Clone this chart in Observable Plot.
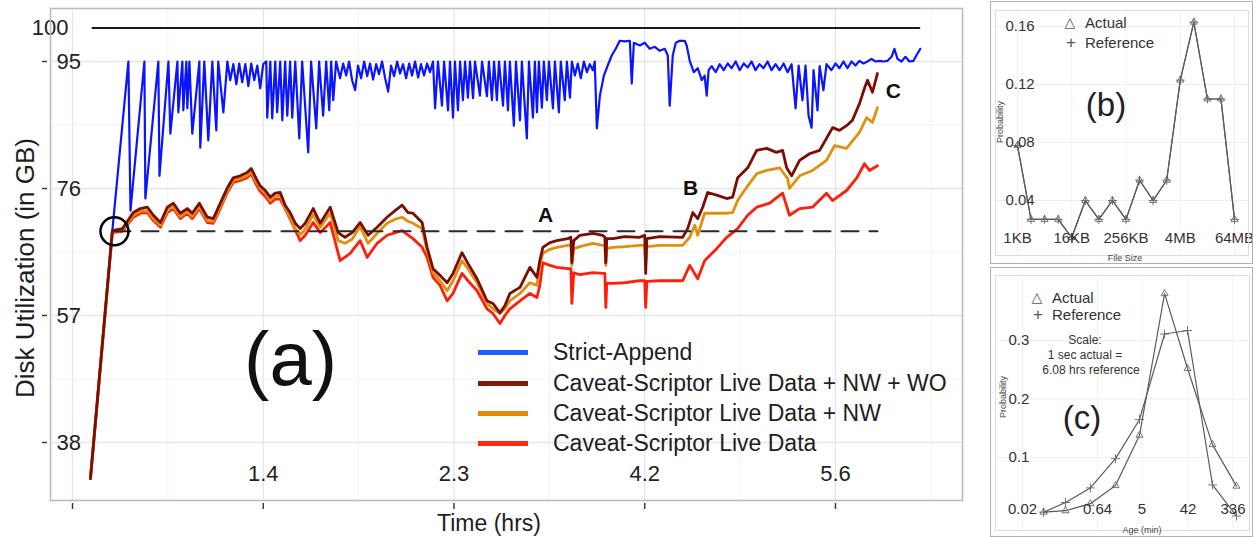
<!DOCTYPE html>
<html><head><meta charset="utf-8">
<script src="https://cdn.jsdelivr.net/npm/d3@7"></script>
<script src="https://cdn.jsdelivr.net/npm/@observablehq/plot@0.6"></script>
<style>
body{margin:0;background:#fff;font-family:"Liberation Sans",Arial,Helvetica,sans-serif;}
#root{position:relative;width:1253px;height:537px;overflow:hidden;background:#fff;}
.abs{position:absolute;white-space:nowrap;line-height:1;color:#1e1e1e;}
.c{transform:translate(-50%,-50%);}
.lm{transform:translate(0,-50%);}
.rot{transform:translate(-50%,-50%) rotate(-90deg);}
.box{position:absolute;border:1px solid #b0b0b0;box-sizing:border-box;}
</style></head><body><div id="root"></div>
<script>
// ---------------- Panel (a) data ----------------
// time position (1 tick interval = 100 units), disk utilization in GB
const xTicks = [0, 100, 200, 300, 400];
const xTickLabels = ["", "1.4", "2.3", "4.2", "5.6"];
const xMinor = [50, 150, 250, 350, 450];
const yTicks = [38, 57, 76, 95];
const yMinor = [47.5, 66.5, 85.5];
const capacityGB = 100;
const capacitySpan = [10.5, 444.0];
const thresholdGB = 69.6;
const thresholdSpan = [21.5, 422.0];

const blueT = [9.4,20.9,29.3,30.4,37.7,38.2,45.0,45.6,50.3,51.3,55.0,55.5,57.6,58.1,59.7,60.2,61.3,62.8,66.5,67.0,69.1,71.2,73.3,75.4,76.4,79.1,81.2,
82.7,84.3,85.9,87.4,89.0,90.6,92.2,93.7,95.3,96.9,98.4,100.0,
101.6,102.1,103.7,104.7,106.3,107.3,108.9,110.0,111.5,112.6,114.1,115.2,116.8,118.9,120.4,123.6,125.1,127.8,129.3,131.4,133.0,134.6,135.6,136.7,138.2,
140.3,141.9,143.5,145.0,146.6,148.2,149.7,151.3,152.9,154.5,156.0,157.6,159.2,160.7,162.3,163.9,165.5,167.0,168.6,170.2,171.7,173.3,174.9,176.5,178.0,179.6,181.2,182.7,184.3,185.9,187.4,
189.0,190.1,191.6,193.7,194.8,196.9,197.9,199.5,200.5,202.1,203.2,204.7,205.8,207.3,208.4,210.0,211.0,213.6,214.7,217.3,218.3,219.9,221.0,222.5,223.6,225.7,226.7,228.3,229.3,231.4,232.5,234.6,235.6,238.2,239.3,241.4,242.4,243.5,244.5,246.1,247.1,248.7,249.8,251.9,252.9,255.0,256.0,258.1,259.2,260.8,261.8,
263.4,264.9,266.5,268.1,269.7,271.2,272.8,273.8,
274.9,276.5,278.6,280.6,282.7,284.8,286.9,289.5,292.2,293.2,294.3,297.4,300.0,302.6,305.3,307.9,310.5,312.1,313.1,314.7,316.3,318.3,321.0,322.0,323.6,325.7,327.8,329.9,331.4,332.5,333.5,335.1,337.2,339.3,341.4,343.5,345.6,347.7,349.8,351.9,354.0,356.0,358.1,360.2,362.3,364.4,366.5,368.6,370.7,372.8,374.9,377.0,
379.1,380.7,382.7,384.3,385.9,387.5,388.5,390.6,391.7,393.7,395.3,
397.9,400.0,402.1,404.2,406.3,408.4,410.5,412.6,414.7,416.8,418.9,421.0,423.1,425.2,427.3,429.4,430.9,432.5,434.6,436.7,438.8,440.9,442.4,444.5];
const blueGB = [32.6,69.7,95,72.7,95,74.5,95,77.9,95,84.2,95,87.4,95,87.7,95,88.0,95,84.2,95,82.1,95,83.2,95,84.7,95,87.4,95,
92.2,94.6,91.6,94.7,91.9,94.6,91.3,94.7,92.2,94.4,91.0,94.6,
95,86.6,95,86.5,95,87.4,95,86.2,95,86.9,95,86.6,95,83.5,95,81.4,95,85.0,95,86.9,95,87.7,95,89.2,95,
92.5,94.7,92.9,95,92.2,90.7,94.4,92.5,95,92.8,94.7,92.3,94.6,93.1,95,92.5,90.5,94.4,92.8,95,93.2,94.6,92.5,94.7,92.9,95,92.6,94.6,92.9,94.7,93.4,
95,88.0,95,88.4,95,87.7,95,86.6,95,87.7,95,89.2,95,89.6,95,89.5,95,89.9,95,89.8,95,89.2,95,89.2,95,88.4,95,87.7,95,85.4,95,86.2,95,83.5,95,86.6,95,87.4,95,88.1,95,89.2,95,88.0,95,87.4,95,89.2,95,89.6,95,
92.9,94.7,92.5,95,93.4,94.6,93.7,95,
85.0,89.9,92.9,94.4,95.9,96.9,98.1,98.0,98.1,91.7,97.8,97.4,97.8,96.9,97.2,96.6,96.9,95.9,88.4,95.9,97.8,98.1,98.1,97.4,95.1,93.4,94.0,92.2,92.9,89.9,93.7,94.3,93.4,94.6,93.7,94.7,94.0,95,93.7,94.7,94.1,95,93.7,94.6,94.0,95,93.7,94.6,93.7,94.7,93.4,94.6,
88.0,94.4,89.2,94.4,86.9,85.1,93.7,87.7,94.3,90.7,94.6,
93.7,94.7,94.0,95,94.0,95,94.4,95.1,94.7,95,95.4,95,95.1,95,95.1,95.7,96.9,95.4,95,95.7,95,95.1,95.9,96.9];

const nwwoT = [9.4,20.9,26.2,31.9,35.6,39.3,42.4,46.1,49.7,52.9,56.5,60.2,62.8,66.5,70.7,73.8,77.5,81.2,84.3,88.0,91.6,93.7,96.3,98.4,101.1,103.7,106.3,108.9,111.5,114.1,116.8,119.4,122.0,126.2,129.9,135.1,139.3,142.9,146.6,150.8,155.0,159.7,164.9,169.1,172.8,175.9,178.5,183.3,185.9,189.0,192.7,196.4,199.5,204.2,207.3,212.1,217.3,220.4,224.1,226.7,229.3,234.6,239.8,243.5,245.0,246.6,250.3,253.9,259.7,261.3,261.8,262.8,266.0,272.8,278.0,279.1,279.6,280.1,283.3,289.5,297.4,300.0,300.5,301.1,307.9,319.9,322.5,325.2,327.8,330.4,333.0,337.7,343.0,346.1,348.7,354.0,358.7,363.9,369.1,372.3,374.4,377.0,381.2,386.4,391.7,395.3,398.5,402.1,405.8,408.9,412.6,415.2,416.8,419.4,422.0];
const nwwoGB = [32.6,69.7,70.0,72.4,73.0,73.2,72.0,70.9,73.2,73.8,72.3,73.0,72.3,73.8,71.7,71.5,73.8,76.1,77.6,77.9,78.4,79.0,77.5,76.4,75.7,74.7,75.3,75.4,73.5,72.4,70.8,70.0,70.8,73.0,70.8,73.2,69.4,68.7,69.4,70.9,69.0,70.2,71.7,72.7,73.5,72.4,72.3,70.9,67.2,64.0,63.0,61.9,63.3,66.4,64.8,62.5,59.2,58.8,57.4,58.5,60.3,61.2,64.2,62.7,65.2,67.2,67.9,68.2,68.5,68.7,64.9,68.2,69.0,69.3,69.0,68.7,64.9,68.5,68.5,68.8,68.7,69.0,63.3,68.5,68.8,68.7,70.0,72.4,71.5,73.2,75.4,75.0,74.5,74.7,77.6,79.1,81.7,82.0,81.4,81.7,79.1,77.9,80.2,81.2,81.7,83.5,85.1,84.7,85.4,86.2,88.7,91.0,92.2,90.4,93.2];

const nwT = [9.4,20.9,26.2,31.9,35.6,39.3,42.4,46.1,49.7,52.9,56.5,60.2,62.8,66.5,70.7,73.8,77.5,81.2,84.3,88.0,91.6,93.7,96.3,98.4,101.1,103.7,106.3,108.9,111.5,114.1,116.8,119.4,122.0,126.2,129.9,135.1,139.3,142.9,146.6,150.8,155.0,159.7,164.9,169.1,172.8,175.9,178.5,183.3,185.9,189.0,192.7,196.4,199.5,204.2,207.3,212.1,217.3,220.4,224.1,226.7,229.3,234.6,239.8,243.5,245.0,246.6,250.3,253.9,259.7,261.3,261.8,262.8,266.0,272.8,278.0,279.1,279.6,280.1,283.3,289.5,297.4,300.0,300.5,301.1,307.9,319.9,323.6,326.2,327.8,331.4,335.6,343.0,346.1,348.7,354.0,358.7,363.9,370.7,374.9,375.9,381.2,388.0,395.3,399.5,405.8,412.6,416.3,419.4,422.0];
const nwGB = [32.6,69.6,69.7,72.0,72.6,72.7,71.5,70.5,72.7,73.3,71.8,72.6,71.8,73.3,71.2,71.1,73.3,75.6,77.2,77.5,77.9,78.5,77.0,76.0,75.3,74.2,74.8,75.0,73.0,71.7,70.0,69.1,69.9,72.1,70.2,72.3,68.2,67.8,68.4,70.3,67.8,69.3,70.8,71.4,71.7,71.1,70.8,70.0,66.7,63.4,62.2,60.7,62.2,65.2,64.0,61.9,58.8,58.0,57.3,58.0,59.2,60.3,61.9,61.5,64.5,66.3,66.9,67.2,67.5,67.5,64.5,67.0,67.3,67.8,67.5,67.5,64.5,67.0,67.2,67.3,67.5,67.5,64.5,67.3,67.5,67.5,68.7,70.5,69.0,72.3,72.3,72.3,72.4,74.2,76.4,78.2,78.7,79.1,77.5,76.0,77.9,78.7,80.2,82.4,82.0,84.4,86.6,85.9,88.1];

const liveT = [9.4,20.9,26.2,31.9,35.6,39.3,42.4,46.1,49.7,52.9,56.5,60.2,62.8,66.5,70.7,73.8,77.5,81.2,84.3,88.0,91.6,93.7,96.3,98.4,101.1,103.7,106.3,108.9,112.6,115.7,119.4,122.0,126.2,129.9,135.1,140.3,145.6,150.8,154.5,159.7,164.9,172.8,178.5,183.3,185.9,189.0,192.7,196.4,199.5,204.2,207.3,212.1,217.3,220.4,224.1,226.7,229.3,234.6,239.8,243.5,245.0,246.6,250.3,253.9,259.7,261.3,261.8,262.8,266.0,272.8,278.0,279.1,279.6,280.1,283.3,289.5,297.4,300.0,300.5,301.1,307.9,319.9,323.6,327.8,331.4,337.7,343.0,348.7,354.0,358.7,365.5,372.3,375.9,381.2,388.0,395.3,398.5,405.8,411.0,415.2,417.8,422.0];
const liveGB = [32.6,69.4,69.6,71.7,72.3,72.4,71.2,70.2,72.4,73.0,71.5,72.3,71.5,73.0,70.9,70.8,73.0,75.4,76.9,77.2,77.6,78.2,76.6,75.6,74.8,73.8,74.4,74.4,72.3,70.5,68.2,69.0,70.9,69.4,70.9,65.2,66.3,68.2,65.7,67.8,69.0,69.7,68.5,67.2,65.7,62.7,61.5,59.2,60.3,63.3,62.2,60.7,58.0,57.3,55.8,57.0,58.0,59.2,60.3,59.7,61.5,64.9,64.5,64.2,64.0,64.0,58.8,63.4,63.1,63.4,63.3,63.3,58.2,61.8,61.8,61.9,62.2,62.2,58.2,62.1,62.2,62.2,64.5,62.5,65.2,67.0,68.7,70.0,72.0,73.2,73.8,75.3,72.0,73.0,73.2,75.3,74.2,75.7,77.5,79.7,78.7,79.4];

const seriesNames = ["Strict-Append","Caveat-Scriptor Live Data + NW + WO","Caveat-Scriptor Live Data + NW","Caveat-Scriptor Live Data"];
const lineColors = ["#0a14ff","#7d0c02","#e0900c","#ff1e0a"];
const legendColors = ["#1f5cff","#861a08","#e0890b","#ff2c0c"];
const annotationLabels = ["A","B","C"];
const annotationT = [248.0, 324.0, 430.4];
const annotationGB = [72.0, 76.1, 90.5];
const panelTag = {t: 114.3, gb: 50.3, label: "(a)"};
const circleMark = {t: 22.0, gb: 69.6};

// ---------------- Panel (b) data ----------------
const fileSizes = ["1KB","2KB","4KB","8KB","16KB","32KB","64KB","128KB","256KB","512KB","1MB","2MB","4MB","8MB","16MB","32MB","64MB"];
const fileSizeTicks = ["1KB","16KB","256KB","4MB","64MB"];
const sizeActual    = [0.078,0.027,0.027,0.027,0.0145,0.040,0.027,0.040,0.027,0.054,0.040,0.054,0.123,0.163,0.110,0.110,0.027];
const sizeReference = [0.078,0.027,0.027,0.027,0.0145,0.040,0.027,0.040,0.027,0.054,0.040,0.054,0.123,0.163,0.110,0.110,0.027];
const probTicksB = [0.04,0.08,0.12,0.16];

// ---------------- Panel (c) data ----------------
const ageBins = [0.053,0.146,0.46,1.47,4.46,14.2,41,130,394];
const ageActual    = [0.0065,0.009,0.021,0.052,0.138,0.38,0.252,0.122,0.051];
const ageReference = [0.0065,0.023,0.048,0.098,0.165,0.311,0.317,0.053,0.0];
const ageTicks = [0.02,0.64,5,42,336];
const ageTickLabels = ["0.02","0.64","5","42","336"];
const probTicksC = [0.1,0.2,0.3];

const root = document.getElementById("root");
function place(node, left, top) {
  const d = document.createElement("div");
  d.style.position = "absolute"; d.style.left = left + "px"; d.style.top = top + "px";
  d.appendChild(node); root.appendChild(d); return d;
}
function label(text, x, y, cls, css) {
  const d = document.createElement("div");
  d.className = "abs " + cls; d.textContent = text;
  d.style.left = x + "px"; d.style.top = y + "px";
  Object.assign(d.style, css || {});
  root.appendChild(d); return d;
}
const font = "Liberation Sans, Arial, Helvetica, sans-serif";

// ---------------- Panel (a) ----------------
const rows = (T, G) => T.map((t, i) => ({t, gb: G[i]}));
const blue = rows(blueT, blueGB), nwwo = rows(nwwoT, nwwoGB), nw = rows(nwT, nwGB), live = rows(liveT, liveGB);
const annotations = annotationLabels.map((l, i) => ({label: l, t: annotationT[i], gb: annotationGB[i]}));

const plotA = Plot.plot({
  width: 975, height: 537,
  marginLeft: 50, marginRight: 13, marginTop: 8, marginBottom: 37,
  x: {domain: [-11.53, 466.6], label: null},
  y: {domain: [29.32, 102.93], label: null},
  style: {fontFamily: font, background: "transparent", overflow: "visible", color: "#1e1e1e"},
  marks: [
    Plot.ruleX(xMinor, {stroke: "#f3f3f3", strokeWidth: 1}),
    Plot.ruleY(yMinor, {stroke: "#f3f3f3", strokeWidth: 1}),
    Plot.ruleX(xTicks, {stroke: "#e6e6e6", strokeWidth: 1.3}),
    Plot.ruleY(yTicks, {stroke: "#e6e6e6", strokeWidth: 1.3}),
    Plot.line(capacitySpan.map(t => ({t, gb: capacityGB})), {x: "t", y: "gb", stroke: "#1a1a1a", strokeWidth: 2}),
    Plot.line(blue, {x: "t", y: "gb", stroke: lineColors[0], strokeWidth: 2.2, strokeLinejoin: "round"}),
    Plot.line(live, {x: "t", y: "gb", stroke: lineColors[3], strokeWidth: 2.8, strokeLinejoin: "round"}),
    Plot.line(nw, {x: "t", y: "gb", stroke: lineColors[2], strokeWidth: 2.8, strokeLinejoin: "round"}),
    Plot.line(nwwo, {x: "t", y: "gb", stroke: lineColors[1], strokeWidth: 2.8, strokeLinejoin: "round"}),
    Plot.line(thresholdSpan.map(t => ({t, gb: thresholdGB})), {x: "t", y: "gb", stroke: "#2a2a2a", strokeWidth: 2, strokeDasharray: "17,11"}),
    Plot.dot([circleMark], {x: "t", y: "gb", r: 14, stroke: "#000", strokeWidth: 2.5, fill: "none"}),
    Plot.text(annotations, {x: "t", y: "gb", text: "label", fontSize: 21, fontWeight: "bold", fill: "#111"}),
    Plot.text([panelTag], {x: "t", y: "gb", text: "label", fontSize: 76, fill: "#111"}),
    Plot.text(yTicks, {y: d => d, frameAnchor: "left", textAnchor: "start", dx: 6, fontSize: 22, fill: "#222"}),
    Plot.text([capacityGB], {y: d => d, frameAnchor: "left", textAnchor: "end", dx: 18, fontSize: 22, fill: "#222"}),
    Plot.text(xTicks, {x: d => d, frameAnchor: "bottom", dy: -20, text: (d, i) => xTickLabels[i], fontSize: 22, fill: "#222"}),
    Plot.frame({stroke: "#bdbdbd", strokeWidth: 1.6}),
    Plot.axisX({ticks: xTicks, tickSize: 6, tickFormat: () => "", label: null, dy: 3, stroke: "#333", strokeWidth: 1.4}),
    Plot.axisY({ticks: yTicks, tickSize: 5, tickFormat: () => "", label: null, dx: -3, stroke: "#333", strokeWidth: 1.4})
  ]
});
place(plotA, 0, 0);

label("Disk Utilization (in GB)", 25, 268, "rot", {fontSize: "26px"});
label("Time (hrs)", 489, 523, "c", {fontSize: "23px"});
const legendY = [352, 383, 413, 443];
seriesNames.forEach((name, i) => {
  const sw = document.createElement("div");
  Object.assign(sw.style, {position: "absolute", left: "478px", top: (legendY[i] - 2.5) + "px", width: "50px", height: "5px", background: legendColors[i]});
  root.appendChild(sw);
  label(name, 553, legendY[i], "lm", {fontSize: "23px"});
});

// ---------------- Panel (b) ----------------
const bRowsA = fileSizes.map((s, i) => ({i, p: sizeActual[i]}));
const bRowsR = fileSizes.map((s, i) => ({i, p: sizeReference[i]}));
const plotB = Plot.plot({
  width: 263, height: 264,
  marginLeft: 5, marginRight: 5, marginTop: 10, marginBottom: 9,
  x: {domain: [-1.62, 17.03], label: null, axis: null},
  y: {domain: [0.0021, 0.171], label: null, axis: null},
  style: {fontFamily: font, background: "transparent", overflow: "visible"},
  marks: [
    Plot.ruleY(probTicksB, {stroke: "#eeeeee"}),
    Plot.ruleX(fileSizeTicks.map(s => fileSizes.indexOf(s)), {stroke: "#f1f1f1"}),
    Plot.line(bRowsR, {x: "i", y: "p", stroke: "#5a5a5a", strokeWidth: 1.2}),
    Plot.line(bRowsA, {x: "i", y: "p", stroke: "#5a5a5a", strokeWidth: 1.2}),
    Plot.dot(bRowsA, {x: "i", y: "p", symbol: "triangle", r: 2.6, stroke: "#666", fill: "none", strokeWidth: 0.9}),
    Plot.dot(bRowsR, {x: "i", y: "p", symbol: "plus", r: 3, stroke: "#666", strokeWidth: 0.9}),
    Plot.text(probTicksB, {y: d => d, frameAnchor: "left", textAnchor: "start", dx: 10, fontSize: 15, fill: "#333"}),
    Plot.text(fileSizeTicks, {x: s => fileSizes.indexOf(s), frameAnchor: "bottom", dy: -13, text: s => s, fontSize: 15, fill: "#333"}),
    Plot.frame({stroke: "#dddddd"})
  ]
});
place(plotB, 990, 0);
const boxB = document.createElement("div"); boxB.className = "box";
Object.assign(boxB.style, {left: "990px", top: "1px", width: "263px", height: "263px"}); root.appendChild(boxB);
label("Probability", 1000, 122, "rot", {fontSize: "9px", color: "#444"});
label("File Size", 1125, 258, "c", {fontSize: "9px", color: "#444"});
label("△", 1070, 22, "c", {fontSize: "14px", color: "#555", fontFamily: "DejaVu Sans"});
label("Actual", 1085, 22, "lm", {fontSize: "15px", color: "#333"});
label("+", 1071, 42, "c", {fontSize: "17px", color: "#555"});
label("Reference", 1085, 42, "lm", {fontSize: "15px", color: "#333"});
label("(b)", 1106, 104, "c", {fontSize: "33px", color: "#222"});

// ---------------- Panel (c) ----------------
const cRowsA = ageBins.map((a, i) => ({a, p: ageActual[i]}));
const cRowsR = ageBins.map((a, i) => ({a, p: ageReference[i]}));
const plotC = Plot.plot({
  width: 263, height: 271,
  marginLeft: 5, marginRight: 4, marginTop: 9, marginBottom: 7,
  x: {type: "log", base: 2, domain: [0.00574, 718.8], label: null, axis: null},
  y: {domain: [-0.0248, 0.411], label: null, axis: null},
  style: {fontFamily: font, background: "transparent", overflow: "visible"},
  marks: [
    Plot.ruleY(probTicksC, {stroke: "#eeeeee"}),
    Plot.ruleX(ageTicks, {stroke: "#f1f1f1"}),
    Plot.line(cRowsR, {x: "a", y: "p", stroke: "#5a5a5a", strokeWidth: 1.2}),
    Plot.line(cRowsA, {x: "a", y: "p", stroke: "#5a5a5a", strokeWidth: 1.2}),
    Plot.dot(cRowsA, {x: "a", y: "p", symbol: "triangle", r: 2.6, stroke: "#666", fill: "none", strokeWidth: 0.9}),
    Plot.dot(cRowsR, {x: "a", y: "p", symbol: "plus", r: 3, stroke: "#666", strokeWidth: 0.9}),
    Plot.text(probTicksC, {y: d => d, frameAnchor: "left", textAnchor: "start", dx: 13, fontSize: 15, fill: "#333"}),
    Plot.text(ageTicks, {x: d => d, frameAnchor: "bottom", dy: -17, text: (d, i) => ageTickLabels[i], fontSize: 15, fill: "#333"}),
    Plot.frame({stroke: "#dddddd"})
  ]
});
place(plotC, 990, 266);
const boxC = document.createElement("div"); boxC.className = "box";
Object.assign(boxC.style, {left: "990px", top: "267px", width: "263px", height: "270px"}); root.appendChild(boxC);
label("Probability", 1003, 397, "rot", {fontSize: "9px", color: "#444"});
label("Age (min)", 1142, 530, "c", {fontSize: "9px", color: "#444"});
label("△", 1037, 297, "c", {fontSize: "14px", color: "#555", fontFamily: "DejaVu Sans"});
label("Actual", 1052, 297, "lm", {fontSize: "15px", color: "#333"});
label("+", 1038, 314, "c", {fontSize: "17px", color: "#555"});
label("Reference", 1052, 314, "lm", {fontSize: "15px", color: "#333"});
label("Scale:", 1085, 340, "c", {fontSize: "12px", color: "#333"});
label("1 sec actual =", 1085, 355, "c", {fontSize: "12px", color: "#333"});
label("6.08 hrs reference", 1091, 370, "c", {fontSize: "12px", color: "#333"});
label("(c)", 1082, 417, "c", {fontSize: "33px", color: "#222"});
</script></body></html>
